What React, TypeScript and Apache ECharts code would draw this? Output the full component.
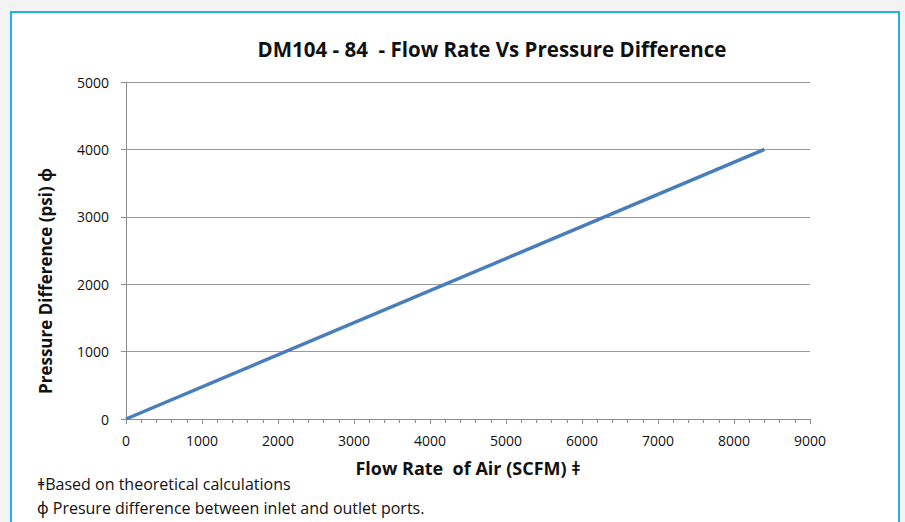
import React, { useEffect, useRef } from "react";
import * as echarts from "echarts";

const flowRate: number[] = [0, 8400];
const pressure: number[] = [0, 4000];
const titleText = "DM104 - 84  - Flow Rate Vs Pressure Difference";
const xName = "Flow Rate  of Air (SCFM) ǂ";
const yName = "Pressure Difference (psi) ϕ";
const notes: string[] = [
  "ǂBased on theoretical calculations",
  "ϕ Presure difference between inlet and outlet ports.",
];

const FONT = "'Open Sans', 'Noto Sans', sans-serif";

export default function App() {
  const ref = useRef<HTMLDivElement>(null);
  useEffect(() => {
    if (!ref.current) return;
    const chart = echarts.init(ref.current, undefined, { renderer: "svg" });
    chart.setOption({
      animation: false,
      backgroundColor: "#f3f3f3",
      textStyle: { fontFamily: FONT },
      graphic: [
        {
          type: "rect",
          z: -10,
          shape: { x: 11, y: 12, width: 888, height: 520 },
          style: { fill: "#ffffff", stroke: "#1cb2ee", lineWidth: 2 },
          silent: true,
        },
        {
          type: "text",
          x: 45,
          y: 281,
          rotation: Math.PI / 2,
          style: {
            text: yName,
            fontFamily: FONT,
            fontSize: 17,
            fontWeight: "bold",
            fill: "#111",
            align: "center",
            verticalAlign: "middle",
          },
        },
        {
          type: "text",
          x: 37,
          y: 484,
          style: {
            text: notes[0],
            fontFamily: FONT,
            fontSize: 16,
            fill: "#111",
            verticalAlign: "middle",
          },
        },
        {
          type: "text",
          x: 37,
          y: 508,
          style: {
            text: notes[1],
            fontFamily: FONT,
            fontSize: 16,
            fill: "#111",
            verticalAlign: "middle",
          },
        },
      ],
      title: {
        text: titleText,
        left: 487,
        top: 33,
        textAlign: "center",
        textStyle: { fontFamily: FONT, fontSize: 20.5, fontWeight: "bold", color: "#111" },
      },
      grid: { left: 126, right: 95, top: 82, bottom: 103 },
      xAxis: {
        type: "value",
        min: 0,
        max: 9000,
        interval: 1000,
        name: xName,
        nameLocation: "middle",
        nameGap: 40,
        nameTextStyle: { fontFamily: FONT, fontSize: 18, fontWeight: "bold", color: "#111" },
        axisLine: { show: true, lineStyle: { color: "#8c8c8c", width: 1 } },
        axisTick: { show: true, length: 5, lineStyle: { color: "#8c8c8c" } },
        minorTick: { show: true, splitNumber: 5, length: 4, lineStyle: { color: "#8c8c8c" } },
        axisLabel: {
          fontFamily: FONT,
          fontSize: 14,
          color: "#111",
          margin: 14,
          formatter: (v: number) => String(v),
        },
        splitLine: { show: false },
      },
      yAxis: {
        type: "value",
        min: 0,
        max: 5000,
        interval: 1000,
        axisLine: { show: true, lineStyle: { color: "#8c8c8c", width: 1 } },
        axisTick: { show: true, length: 5, lineStyle: { color: "#8c8c8c" } },
        axisLabel: {
          fontFamily: FONT,
          fontSize: 14,
          color: "#111",
          margin: 17,
          formatter: (v: number) => String(v),
        },
        splitLine: { show: true, lineStyle: { color: "#9a9a9a", width: 1 } },
      },
      series: [
        {
          type: "line",
          data: flowRate.map((x, i) => [x, pressure[i]]),
          showSymbol: false,
          symbol: "none",
          lineStyle: { color: "#4a7ebb", width: 3.5 },
        },
      ],
    });
    return () => chart.dispose();
  }, []);
  return (
    <div
      ref={ref}
      style={{ position: "fixed", left: 0, top: 0, width: 905, height: 522 }}
    />
  );
}
